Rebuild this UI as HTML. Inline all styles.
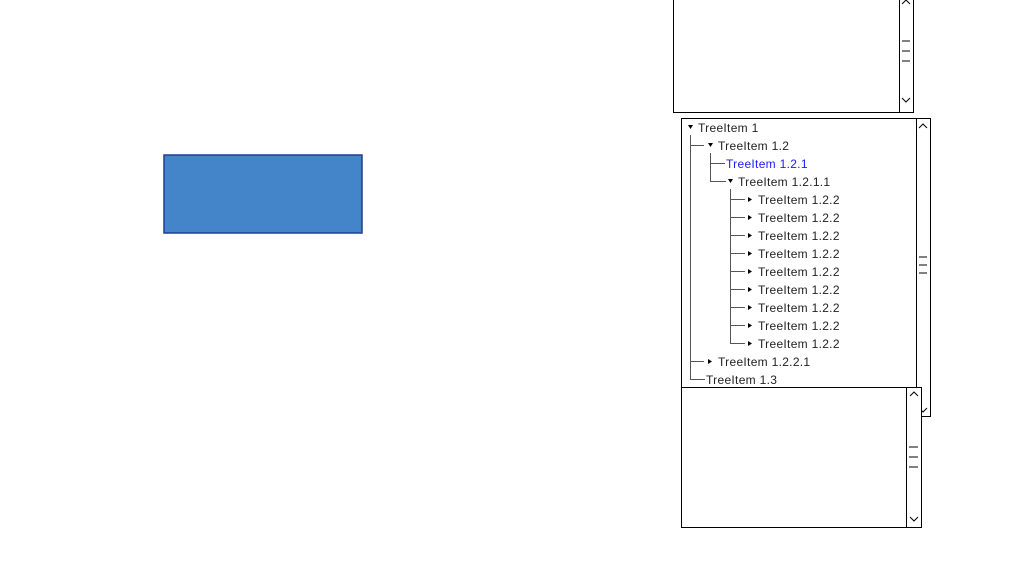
<!DOCTYPE html>
<html><head><style>
html,body{margin:0;padding:0;background:#fff;width:1036px;height:563px;overflow:hidden}
text{font-family:"Liberation Sans",sans-serif;font-size:12px;fill:#222;letter-spacing:0.3px}
</style></head><body>
<svg width="1036" height="563" xmlns="http://www.w3.org/2000/svg">
<rect x="164" y="155" width="198" height="78" fill="#4485C9" stroke="#1F3F8F" stroke-width="1.5"/>
<!-- top box -->
<rect x="673.5" y="-5" width="240" height="117.5" fill="#fff" stroke="#000"/>
<line x1="899.5" y1="-5" x2="899.5" y2="112" stroke="#000"/>
<path d="M902 4 L906 0 L910 4 M902 98 L906 102 L910 98" fill="none" stroke="#000"/>
<path d="M902 41h8M902 51h8M902 61h8" stroke="#000"/>
<!-- tree box -->
<rect x="681.5" y="118.5" width="249" height="298" fill="#fff" stroke="#000"/>
<line x1="916.5" y1="118" x2="916.5" y2="416" stroke="#000"/>
<path d="M919 128 L923 124 L927 128 M919 408 L923 412 L927 408" fill="none" stroke="#000"/>
<path d="M919 257h8M919 265h8M919 273h8" stroke="#000"/>
<g stroke="#555" fill="none">
<path d="M690.5 135V379.5H705M690 145.5H704M690 361.5H704"/>
<path d="M710.5 153V181.5H726M710 163.5H725"/>
<path d="M730.5 189V343.5H745M730 199.5H745M730 217.5H745M730 235.5H745M730 253.5H745M730 271.5H745M730 289.5H745M730 307.5H745M730 325.5H745"/>
</g>
<g fill="#000">
<path d="M688 125h5l-2.5 4z"/>
<path d="M708 143h5l-2.5 4z"/>
<path d="M728 179h5l-2.5 4z"/>
<path d="M708 359v5l4-2.5z"/>
<path d="M748 197v5l4-2.5z"/><path d="M748 215v5l4-2.5z"/><path d="M748 233v5l4-2.5z"/>
<path d="M748 251v5l4-2.5z"/><path d="M748 269v5l4-2.5z"/><path d="M748 287v5l4-2.5z"/>
<path d="M748 305v5l4-2.5z"/><path d="M748 323v5l4-2.5z"/><path d="M748 341v5l4-2.5z"/>
</g>
<text x="698" y="132">TreeItem 1</text>
<text x="718" y="150">TreeItem 1.2</text>
<text x="726" y="168" style="fill:#1a1aff">TreeItem 1.2.1</text>
<text x="738" y="186">TreeItem 1.2.1.1</text>
<text x="758" y="204">TreeItem 1.2.2</text>
<text x="758" y="222">TreeItem 1.2.2</text>
<text x="758" y="240">TreeItem 1.2.2</text>
<text x="758" y="258">TreeItem 1.2.2</text>
<text x="758" y="276">TreeItem 1.2.2</text>
<text x="758" y="294">TreeItem 1.2.2</text>
<text x="758" y="312">TreeItem 1.2.2</text>
<text x="758" y="330">TreeItem 1.2.2</text>
<text x="758" y="348">TreeItem 1.2.2</text>
<text x="718" y="366">TreeItem 1.2.2.1</text>
<text x="706" y="384">TreeItem 1.3</text>
<!-- bottom box -->
<rect x="681.5" y="387.5" width="240" height="140" fill="#fff" stroke="#000"/>
<line x1="906.5" y1="387" x2="906.5" y2="527" stroke="#000"/>
<path d="M910 396 L914 392 L918 396 M910 517 L914 521 L918 517" fill="none" stroke="#000"/>
<path d="M909 447h9M909 457h9M909 467h9" stroke="#000"/>
</svg>
</body></html>
